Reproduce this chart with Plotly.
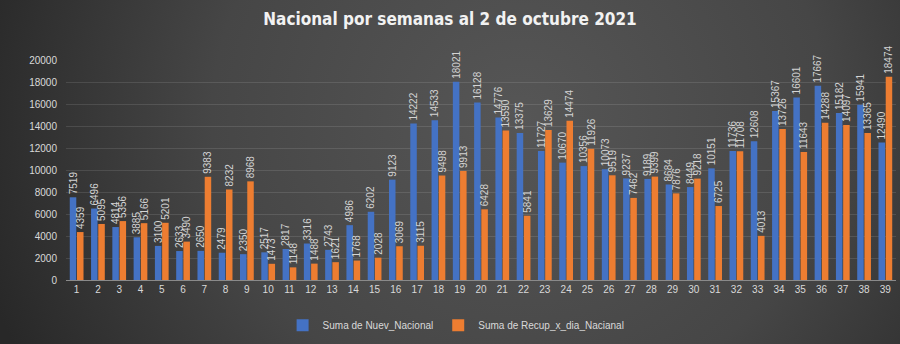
import base64
import plotly.graph_objects as go

semanas = [str(i) for i in range(1, 40)]
nuevos = [7519, 6496, 4814, 3885, 3100, 2633, 2650, 2479, 2350, 2517, 2817, 3316, 2743, 4986, 6202,
          9123, 14222, 14533, 18021, 16128, 14776, 13375, 11727, 10670, 10356, 10073, 9237, 9189,
          8684, 8449, 10151, 11736, 12608, 15367, 16601, 17667, 15182, 15941, 12490]
recuperados = [4359, 5095, 5356, 5166, 5201, 3490, 9383, 8232, 8968, 1473, 1148, 1488, 1621, 1768,
               2028, 3069, 3115, 9498, 9913, 6428, 13590, 5841, 13629, 14474, 11926, 9519, 7462,
               9399, 7876, 9218, 6725, 11708, 4013, 13726, 11643, 14288, 14097, 13365, 18474]
y_ticks = [0, 2000, 4000, 6000, 8000, 10000, 12000, 14000, 16000, 18000, 20000]

svg = ('<svg xmlns="http://www.w3.org/2000/svg" width="1000" height="444" preserveAspectRatio="none" viewBox="-50 -50 1000 444">'
       '<defs><radialGradient id="g" gradientUnits="userSpaceOnUse" cx="520" cy="120" r="560">'
       '<stop offset="0" stop-color="#565656"/><stop offset="0.55" stop-color="#464646"/>'
       '<stop offset="1" stop-color="#282828"/>'
       '</radialGradient></defs><rect x="-50" y="-50" width="1000" height="444" fill="url(#g)"/></svg>')
bg = "data:image/svg+xml;base64," + base64.b64encode(svg.encode()).decode()

FONT = "Liberation Sans, Arial, sans-serif"
lbl = dict(color="#d4d4d4", size=10, family=FONT)

fig = go.Figure()
fig.add_trace(go.Bar(x=semanas, y=nuevos, name="Suma de Nuev_Nacional",
                     marker=dict(color="#4472C4", line=dict(width=0)),
                     text=nuevos, textposition="outside", textangle=-90,
                     textfont=lbl, constraintext="none", cliponaxis=False))
fig.add_trace(go.Bar(x=semanas, y=recuperados, name="Suma de Recup_x_dia_Nacianal",
                     marker=dict(color="#ED7D31", line=dict(width=0)),
                     text=recuperados, textposition="outside", textangle=-90,
                     textfont=lbl, constraintext="none", cliponaxis=False))

fig.update_layout(
    width=900, height=344,
    margin=dict(l=66, r=4, t=60, b=54),
    paper_bgcolor="#3a3a3a", plot_bgcolor="rgba(0,0,0,0)",
    images=[dict(source=bg, xref="paper", yref="paper", x=-116/830, y=1+110/230,
                 sizex=1000/830, sizey=444/230, sizing="stretch", layer="below",
                 xanchor="left", yanchor="top")],
    title=dict(text="<b>Nacional por semanas al 2 de octubre 2021</b>", x=0.5, xanchor="center",
               y=0.945, yanchor="middle",
               font=dict(color="#f2f2f2", size=17, family="DejaVu Sans Condensed, DejaVu Sans, sans-serif")),
    barmode="group", bargap=0.32, bargroupgap=0.1,
    font=dict(family=FONT, color="#d9d9d9", size=10),
    xaxis=dict(showgrid=False, showline=True, linecolor="#8a8a8a", linewidth=1,
               tickfont=dict(size=10, color="#d9d9d9"), ticks="", type="category"),
    yaxis=dict(range=[0, 20000], tickvals=y_ticks, tickformat="d", showgrid=True,
               gridcolor="rgba(255,255,255,0.11)", gridwidth=1, zeroline=False,
               tickfont=dict(size=10, color="#d9d9d9"), ticklabelstandoff=8),
    legend=dict(orientation="h", x=0.47, xanchor="center", y=-0.14, yanchor="top",
                font=dict(size=10, color="#d9d9d9"), itemwidth=30, bgcolor="rgba(0,0,0,0)"),
    showlegend=True,
)
fig.write_html("out.html")
